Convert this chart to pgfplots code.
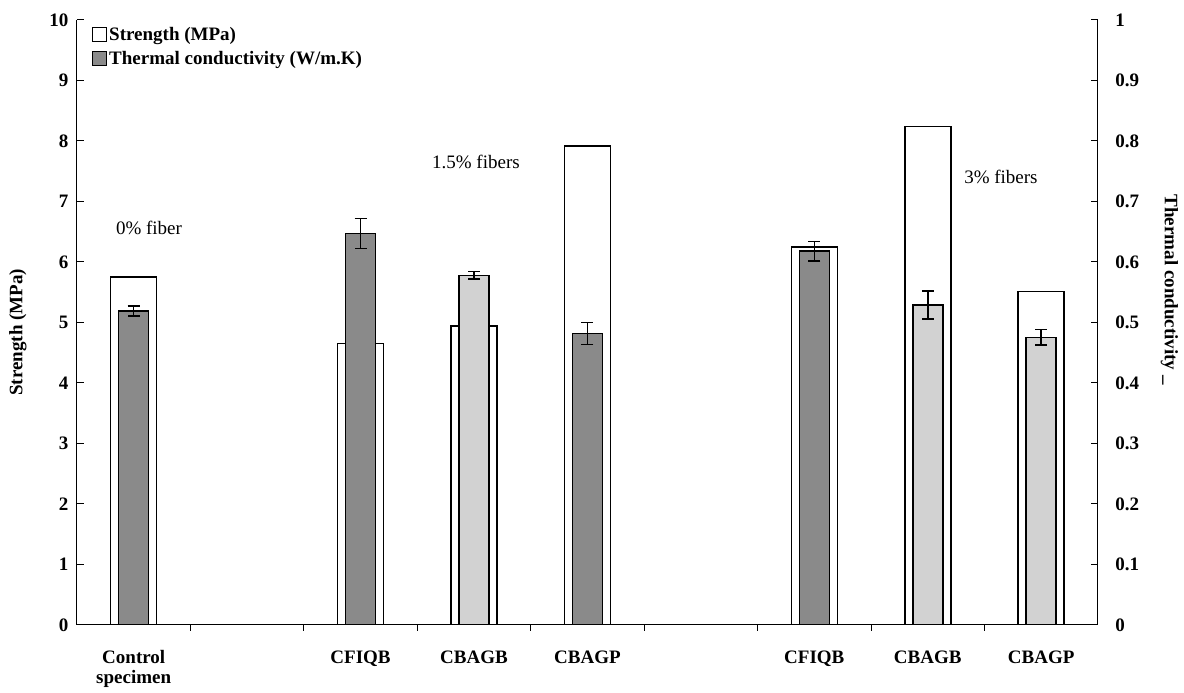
\documentclass[border=0pt]{standalone}
\usepackage{pgfplots}
\pgfplotsset{compat=1.18}
\usepackage{fontspec}
\setmainfont{Liberation Serif}

\definecolor{darkbar}{HTML}{8A8A8A}
\definecolor{lightbar}{HTML}{D2D2D2}

\pgfplotsset{
  common/.style={
    scale only axis, width=1021pt, height=605pt,
    at={(0pt,0pt)}, anchor=south west,
    xmin=-0.5, xmax=8.5, ymin=0,
    /pgf/number format/assume math mode=true,
    axis line style={line width=1pt, -},
    tick style={line width=1pt, black},
    tick align=inside,
    major tick length=7pt,
    minor tick length=6pt,
    yticklabel style={font=\bfseries},
  },
  errs/.style={
    error bars/.cd, y dir=both, y explicit,
    error bar style={line width=1.5pt, black},
    error mark options={rotate=90, mark size=6pt, line width=1.5pt, black},
    /pgfplots/.cd,
  },
}

\begin{document}
\fontsize{19}{23}\selectfont
\begin{tikzpicture}
\useasboundingbox (-77pt,-68pt) rectangle (1107pt,625pt);

% strength, left axis
\begin{axis}[
  common,
  axis x line*=bottom, axis y line*=left,
  ymax=10, ytick={0,1,2,3,4,5,6,7,8,9,10},
  yticklabel style={xshift=-2pt},
  xtick={0,2,3,4,6,7,8},
  xticklabels={{Control\\[-3pt]specimen},CFIQB,CBAGB,CBAGP,CFIQB,CBAGB,CBAGP},
  xticklabel style={align=center, font=\bfseries, yshift=-12pt},
  minor xtick={0.5,1.5,2.5,3.5,4.5,5.5,6.5,7.5},
  major x tick style={draw=none},
  ylabel={\textbf{Strength (MPa)}},
  ylabel style={at={(rel axis cs:-0.058,0.484)}, anchor=center},
  ybar, bar width=46pt,
]
\addplot[ybar, bar shift=0pt, fill=white, draw=black, line width=1.5pt]
  coordinates {(0,5.75) (2,4.65) (3,4.94) (4,7.92) (6,6.25) (7,8.24) (8,5.51)};

\node at (axis cs:0.135,6.56) {0\% fiber};
\node at (axis cs:3.017,7.65) {1.5\% fibers};
\node at (axis cs:7.645,7.41) {3\% fibers};
\end{axis}

% thermal conductivity, right axis
\begin{axis}[
  common,
  axis y line*=right, axis x line=none,
  ymax=1, ytick={0,0.1,0.2,0.3,0.4,0.5,0.6,0.7,0.8,0.9,1},
  yticklabel style={xshift=11pt},
  ylabel={\textbf{Thermal conductivity \_}},
  ylabel style={at={(rel axis cs:1.070,0.554)}, anchor=center, rotate=180},
  ybar, bar width=30pt,
  legend style={at={(rel axis cs:0.012,0.995)}, anchor=north west,
    draw=none, fill=none, font=\bfseries, row sep=4pt},
  legend cell align=left,
  legend image code/.code={\draw[#1, line width=0.8pt] (0pt,-6pt) rectangle (14pt,8pt);},
]
\addlegendimage{fill=white, draw=black}
\addlegendentry{Strength (MPa)}

\addplot[ybar, bar shift=0pt, fill=darkbar, draw=black, line width=1.5pt, errs]
  coordinates {(0,0.519) +- (0,0.0085)
               (2,0.647) +- (0,0.025)
               (4,0.482) +- (0,0.018)
               (6,0.618) +- (0,0.016)};
\addlegendentry{Thermal conductivity (W/m.K)}

\addplot[forget plot, ybar, bar shift=0pt, fill=lightbar, draw=black, line width=1.5pt, errs]
  coordinates {(3,0.578) +- (0,0.006)
               (7,0.529) +- (0,0.023)
               (8,0.4755) +- (0,0.013)};
\end{axis}
\end{tikzpicture}
\end{document}
